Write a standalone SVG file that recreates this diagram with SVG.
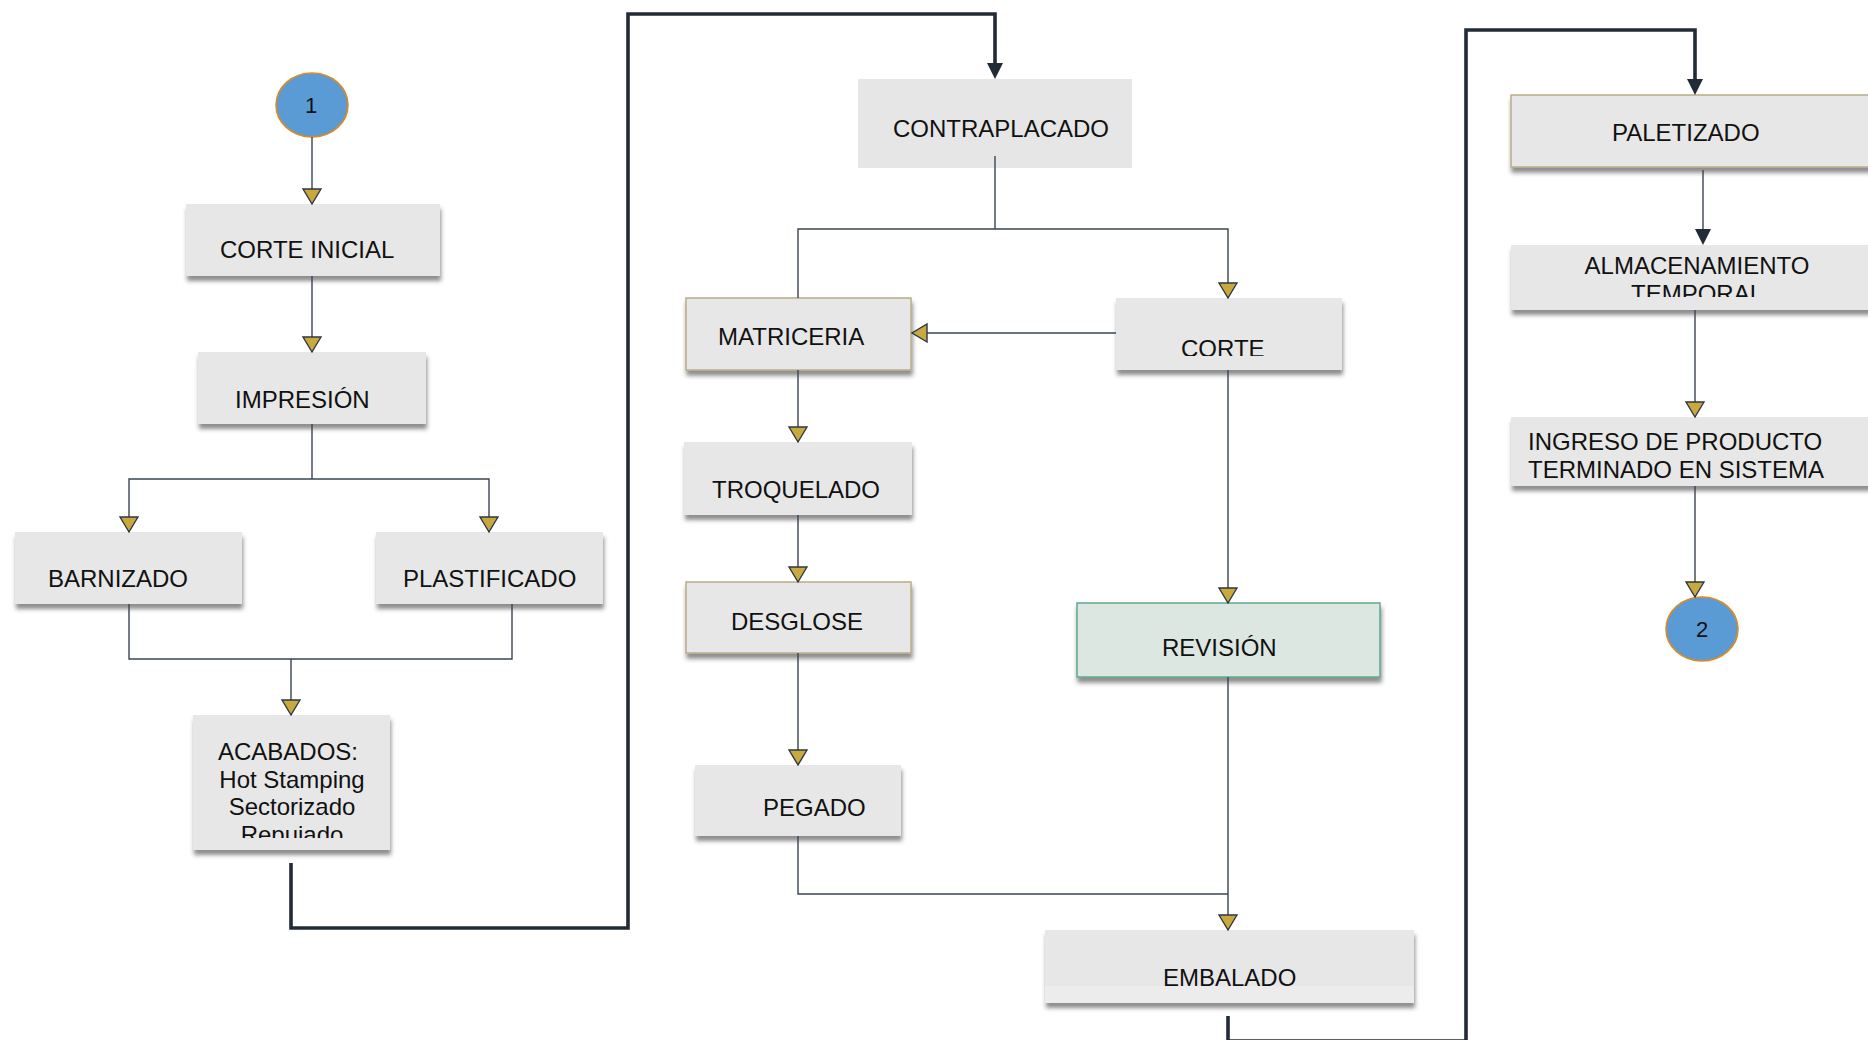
<svg xmlns="http://www.w3.org/2000/svg" width="1868" height="1040" viewBox="0 0 1868 1040">
<style>
  .box{fill:#e7e7e7;filter:url(#sh);}
  .flat{fill:#e6e6e6;}
  .tan{stroke:#b9ad88;stroke-width:1.5;}
  .rev{fill:#dde7e1;stroke:#5fa98b;stroke-width:1.5;filter:url(#sh);}
  .t{font-family:"Liberation Sans",Arial,sans-serif;font-size:24px;fill:#111;}
  .c{text-anchor:middle;}
  .circ{fill:#5b9bd5;stroke:#e08a1e;stroke-width:1.6;}
  .ln{fill:none;stroke:#3a4452;stroke-width:1.4;}
  .ga{marker-end:url(#gold);}
  .thick{fill:none;stroke:#222b36;stroke-width:3.6;marker-end:url(#dark);}
  .da{marker-end:url(#dark);}
</style>
<defs>
  <filter id="sh" x="-5%" y="-10%" width="112%" height="135%">
    <feDropShadow dx="1" dy="5" stdDeviation="2.2" flood-color="#333" flood-opacity="0.55"/>
  </filter>
  <marker id="gold" markerUnits="userSpaceOnUse" viewBox="0 0 20 22" markerWidth="20" markerHeight="22" refX="17" refY="11" orient="auto">
    <path d="M2,2 L17,11 L2,20 Z" fill="#c9a83d" stroke="#2d3744" stroke-width="1.4" stroke-linejoin="miter"/>
  </marker>
  <marker id="dark" markerUnits="userSpaceOnUse" viewBox="0 0 18 18" markerWidth="18" markerHeight="18" refX="9" refY="9" orient="auto">
    <path d="M1,1 L17,9 L1,17 Z" fill="#222b36"/>
  </marker>
  <clipPath id="clipAcab"><rect x="193" y="715" width="197" height="123"/></clipPath>
  <clipPath id="clipCorte"><rect x="1116" y="298" width="226" height="58"/></clipPath>
  <clipPath id="clipAlm"><rect x="1511" y="245" width="400" height="52"/></clipPath>
</defs>
<rect width="1868" height="1040" fill="#ffffff"/>

<g id="nodes">
  <g id="n-inicio1">
    <ellipse class="circ" cx="312" cy="105" rx="36" ry="32"/>
    <text class="t c" x="311" y="113" style="font-size:22px">1</text>
  </g>
  <g id="n-corte-inicial">
    <rect class="box" x="186" y="204" width="254" height="72"/>
    <text class="t" x="220" y="258">CORTE INICIAL</text>
  </g>
  <g id="n-impresion">
    <rect class="box" x="198" y="352" width="228" height="72"/>
    <text class="t" x="235" y="408">IMPRESIÓN</text>
  </g>
  <g id="n-barnizado">
    <rect class="box" x="15" y="532" width="227" height="72"/>
    <text class="t" x="48" y="587">BARNIZADO</text>
  </g>
  <g id="n-plastificado">
    <rect class="box" x="376" y="532" width="227" height="72"/>
    <text class="t" x="403" y="587">PLASTIFICADO</text>
  </g>
  <g id="n-acabados">
    <rect class="box" x="193" y="715" width="197" height="135"/>
    <g clip-path="url(#clipAcab)">
      <text class="t c" x="288" y="760">ACABADOS:</text>
      <text class="t c" x="292" y="788">Hot Stamping</text>
      <text class="t c" x="292" y="815">Sectorizado</text>
      <text class="t c" x="292" y="843">Repujado</text>
    </g>
  </g>
  <g id="n-contraplacado">
    <rect class="flat" x="858" y="79" width="274" height="89"/>
    <text class="t" x="893" y="137">CONTRAPLACADO</text>
  </g>
  <g id="n-matriceria">
    <rect class="box tan" x="686" y="298" width="225" height="72"/>
    <text class="t" x="718" y="345">MATRICERIA</text>
  </g>
  <g id="n-corte">
    <rect class="box" x="1116" y="298" width="226" height="72"/>
    <text class="t" x="1181" y="357" clip-path="url(#clipCorte)">CORTE</text>
  </g>
  <g id="n-troquelado">
    <rect class="box" x="684" y="442" width="228" height="73"/>
    <text class="t" x="712" y="498">TROQUELADO</text>
  </g>
  <g id="n-desglose">
    <rect class="box tan" x="686" y="582" width="225" height="71"/>
    <text class="t" x="731" y="630">DESGLOSE</text>
  </g>
  <g id="n-pegado">
    <rect class="box" x="695" y="765" width="206" height="71"/>
    <text class="t" x="763" y="816">PEGADO</text>
  </g>
  <g id="n-revision">
    <rect class="rev" x="1077" y="603" width="303" height="74"/>
    <text class="t" x="1162" y="656">REVISIÓN</text>
  </g>
  <g id="n-embalado">
    <rect class="box" x="1045" y="930" width="369" height="73"/>
    <rect x="1045" y="986" width="369" height="17" fill="#ececec"/>
    <text class="t" x="1163" y="986">EMBALADO</text>
  </g>
  <g id="n-paletizado">
    <rect class="box tan" x="1511" y="95" width="400" height="72"/>
    <text class="t" x="1612" y="141">PALETIZADO</text>
  </g>
  <g id="n-almacenamiento">
    <rect class="box" x="1511" y="245" width="400" height="65"/>
    <g clip-path="url(#clipAlm)">
      <text class="t c" x="1697" y="274">ALMACENAMIENTO</text>
      <text class="t c" x="1697" y="302">TEMPORAL</text>
    </g>
  </g>
  <g id="n-ingreso">
    <rect class="box" x="1511" y="417" width="400" height="69"/>
    <text class="t" x="1528" y="450">INGRESO DE PRODUCTO</text>
    <text class="t" x="1528" y="478">TERMINADO EN SISTEMA</text>
  </g>
  <g id="n-fin2">
    <ellipse class="circ" cx="1702" cy="629" rx="36" ry="32"/>
    <text class="t c" x="1702" y="637" style="font-size:22px">2</text>
  </g>
</g>

<g id="connectors">
  <path class="ln ga" d="M312,137 V204"/>
  <path class="ln ga" d="M312,276 V352"/>
  <path class="ln" d="M312,424 V479"/>
  <path class="ln ga" d="M312,479 H129 V532"/>
  <path class="ln ga" d="M312,479 H489 V532"/>
  <path class="ln" d="M129,604 V659 H512 V604"/>
  <path class="ln ga" d="M291,659 V715"/>
  <path class="thick" d="M291,863 V928 H628 V14 H995 V71"/>
  <path class="ln" d="M995,156 V229"/>
  <path class="ln" d="M995,229 H798 V298"/>
  <path class="ln ga" d="M995,229 H1228 V298"/>
  <path class="ln ga" d="M1116,333 H912"/>
  <path class="ln ga" d="M798,370 V442"/>
  <path class="ln ga" d="M798,515 V582"/>
  <path class="ln ga" d="M798,653 V765"/>
  <path class="ln ga" d="M1228,370 V603"/>
  <path class="ln" d="M798,836 V894 H1228"/>
  <path class="ln ga" d="M1228,677 V930"/>
  <path class="thick" d="M1228,1016 V1041 H1466 V30 H1695 V87"/>
  <path class="ln da" d="M1703,170 V237"/>
  <path class="ln ga" d="M1695,310 V417"/>
  <path class="ln ga" d="M1695,486 V597"/>
</g>
</svg>
